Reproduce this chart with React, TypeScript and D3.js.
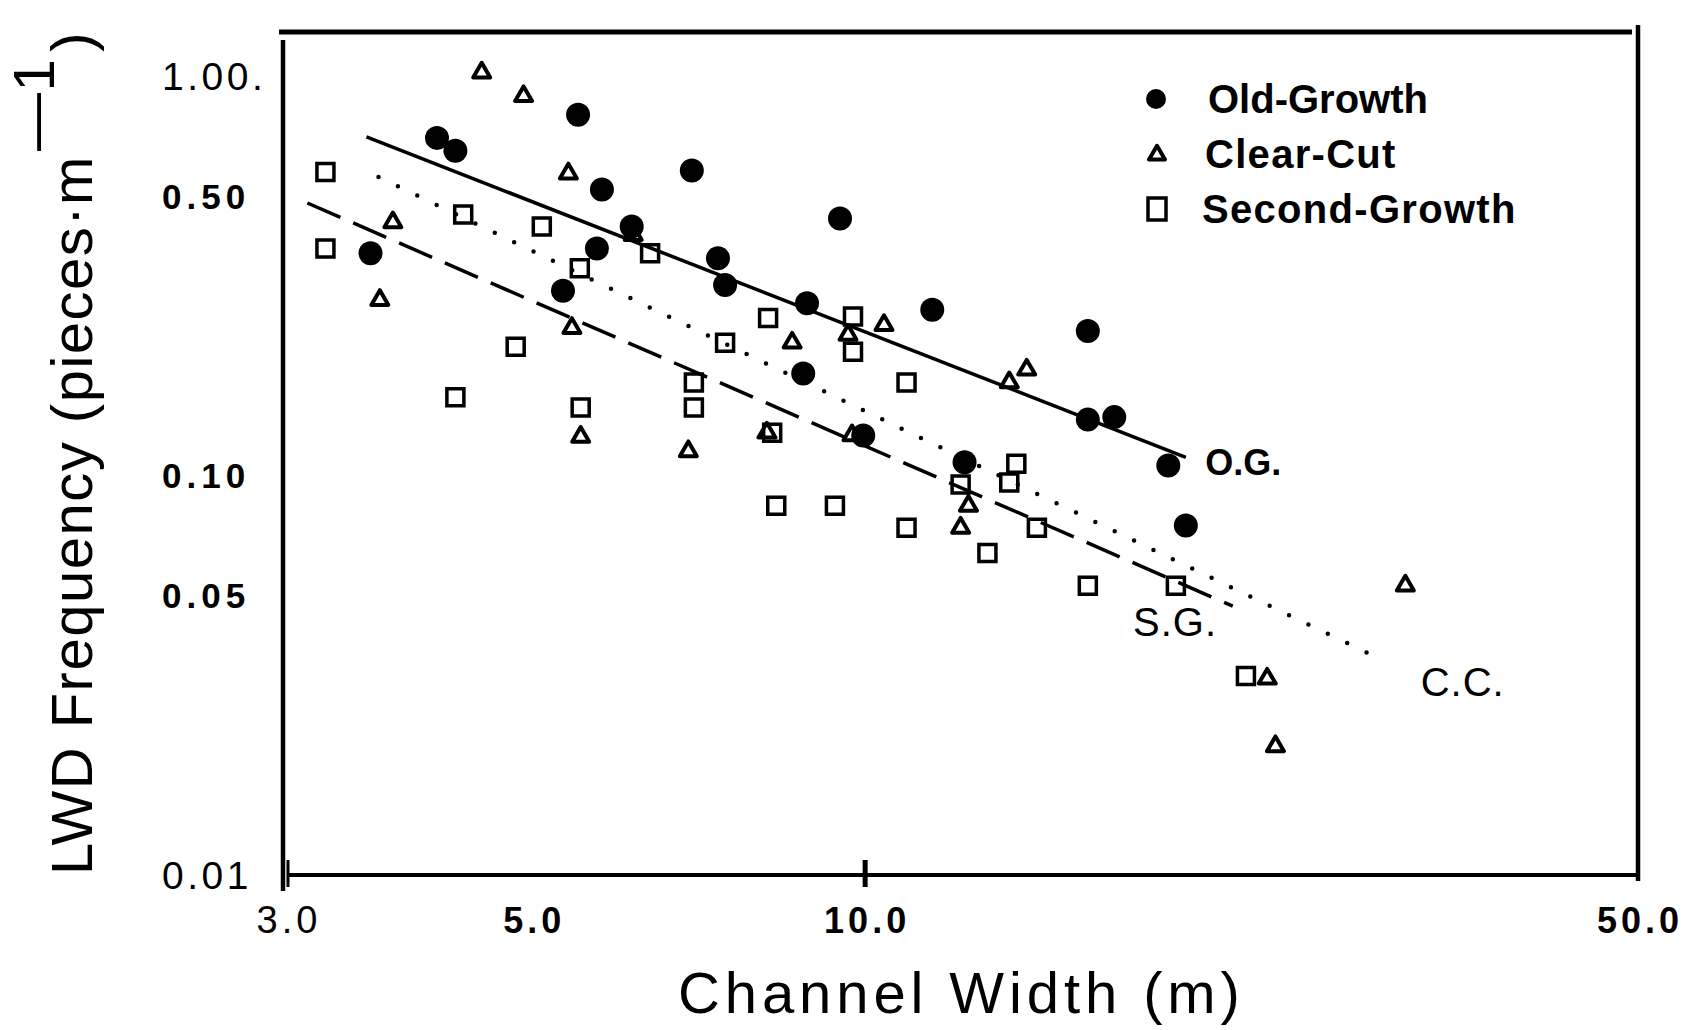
import React, { useRef, useEffect } from 'react';
import * as d3 from 'd3';

// channel width (m) / LWD frequency (pieces per m)
const oldGrowthWidth = [3.57, 4.10, 4.26, 5.50, 6.97, 5.78, 6.15, 5.72, 5.33, 7.36, 7.47, 9.49, 8.86, 11.5, 15.9, 8.79, 9.96, 12.3, 15.9, 16.8, 18.8, 19.5];
const oldGrowthFreq = [0.36, 0.70, 0.65, 0.80, 0.58, 0.52, 0.42, 0.37, 0.29, 0.35, 0.30, 0.44, 0.27, 0.26, 0.23, 0.18, 0.126, 0.108, 0.138, 0.14, 0.106, 0.075];

const clearCutWidth = [4.50, 4.91, 5.39, 3.74, 3.64, 6.17, 5.43, 5.53, 6.92, 8.59, 10.4, 9.65, 14.0, 13.5, 8.15, 12.4, 12.2, 9.73, 30.8, 23.1, 23.5];
const clearCutFreq = [1.02, 0.89, 0.57, 0.43, 0.275, 0.40, 0.234, 0.125, 0.115, 0.215, 0.238, 0.225, 0.184, 0.171, 0.128, 0.084, 0.074, 0.126, 0.053, 0.031, 0.021];

const secondGrowthWidth = [3.25, 3.25, 4.33, 5.10, 6.39, 5.52, 4.83, 4.26, 5.53, 7.00, 7.00, 8.17, 7.47, 9.75, 9.75, 10.9, 8.31, 9.39, 10.9, 12.9, 12.2, 13.7, 13.5, 14.3, 15.9, 19.1, 22.1, 8.24];
const secondGrowthFreq = [0.575, 0.37, 0.45, 0.42, 0.36, 0.33, 0.21, 0.157, 0.148, 0.171, 0.148, 0.248, 0.215, 0.25, 0.204, 0.171, 0.084, 0.084, 0.074, 0.064, 0.095, 0.107, 0.096, 0.074, 0.053, 0.053, 0.0315, 0.128];

// fitted lines (end points)
const ogLineX = [3.54, 19.5];
const ogLineY = [0.704, 0.111];
const ccLineX = [3.63, 29.5];
const ccLineY = [0.559, 0.0343];
const sgLineX = [3.13, 21.5];
const sgLineY = [0.481, 0.0471];

// axis ticks
const xTickValues = [3, 5, 10, 50];
const xTickLabels = ['3.0', '5.0', '10.0', '50.0'];
const xTickBold = [false, true, true, true];
const yTickValues = [1, 0.5, 0.1, 0.05, 0.01];
const yTickLabels = ['1.00.', '0.50', '0.10', '0.05', '0.01'];
const yTickBold = [false, true, true, true, false];

const legendNames = ['Old-Growth', 'Clear-Cut', 'Second-Growth'];

const W = 1700;
const H = 1030;
const FONT = '"Liberation Sans", Arial, Helvetica, sans-serif';

const Chart: React.FC = () => {
  const svgRef = useRef<SVGSVGElement | null>(null);

  useEffect(() => {
    const svg = d3.select(svgRef.current);
    svg.selectAll('*').remove();
    svg.attr('width', W).attr('height', H)
      .style('background', '#fff')
      .style('font-family', FONT);

    // scales
    const x = d3.scaleLog().domain([3, 50]).range([287, 1638]);
    const y = d3.scaleLog().domain([0.01, 1]).range([875, 76]);

    const x0 = x(3), x1 = x(50), yb = y(0.01);

    // frame
    const frame = svg.append('g').attr('stroke', '#000').attr('fill', 'none');
    frame.append('line').attr('x1', x0 - 8).attr('x2', x1 - 6).attr('y1', 32).attr('y2', 32).attr('stroke-width', 5);
    frame.append('line').attr('x1', x0 - 4).attr('x2', x0 - 4).attr('y1', 40).attr('y2', yb + 16).attr('stroke-width', 4.5);
    frame.append('line').attr('x1', x1).attr('x2', x1).attr('y1', 25).attr('y2', yb + 6).attr('stroke-width', 4.5);
    frame.append('line').attr('x1', x0).attr('x2', x1).attr('y1', yb).attr('y2', yb).attr('stroke-width', 4);
    // x tick marks
    frame.append('line').attr('x1', x(10)).attr('x2', x(10)).attr('y1', yb - 15).attr('y2', yb + 12).attr('stroke-width', 5);
    frame.append('line').attr('x1', x0 + 1).attr('x2', x0 + 1).attr('y1', yb - 15).attr('y2', yb + 12).attr('stroke-width', 3);

    // tick labels
    svg.append('g').selectAll('text').data(xTickValues).join('text')
      .attr('x', d => x(d) + 2)
      .attr('y', 933)
      .attr('text-anchor', 'middle')
      .attr('font-size', (_, i) => xTickBold[i] ? 36 : 38)
      .attr('font-weight', (_, i) => xTickBold[i] ? 'bold' : 'normal')
      .attr('letter-spacing', 4)
      .text((_, i) => xTickLabels[i]);

    svg.append('g').selectAll('text').data(yTickValues).join('text')
      .attr('x', 162)
      .attr('y', (d, i) => y(d) + (yTickBold[i] ? 12.5 : 14))
      .attr('font-size', (_, i) => yTickBold[i] ? 35 : 39)
      .attr('font-weight', (_, i) => yTickBold[i] ? 'bold' : 'normal')
      .attr('letter-spacing', (_, i) => yTickBold[i] ? 5 : 3.5)
      .text((_, i) => yTickLabels[i]);

    // axis titles
    svg.append('text')
      .attr('x', 678).attr('y', 1013)
      .attr('font-size', 58)
      .attr('letter-spacing', 4.9)
      .text('Channel Width (m)');

    const yTitle = svg.append('text')
      .attr('transform', `translate(92, ${yb}) rotate(-90)`)
      .attr('font-size', 58)
      .attr('letter-spacing', 1.5);
    yTitle.append('tspan').text('LWD Frequency (pieces\u00b7m');
    yTitle.append('tspan').attr('dy', -38).attr('dx', 4).text('\u20141');
    yTitle.append('tspan').attr('dy', 38).attr('dx', 6).text(')');

    // fitted lines
    const line = d3.line<number>().x(d => d[0]).y(d => d[1]);
    const fit = (xs: number[], ys: number[]) => line(xs.map((v, i) => [x(v), y(ys[i])]) as any);

    svg.append('path').attr('d', fit(ogLineX, ogLineY))
      .attr('fill', 'none').attr('stroke', '#000').attr('stroke-width', 3.5);
    svg.append('path').attr('d', fit(ccLineX, ccLineY))
      .attr('fill', 'none').attr('stroke', '#000').attr('stroke-width', 4.5)
      .attr('stroke-linecap', 'round').attr('stroke-dasharray', '0 21.5');
    svg.append('path').attr('d', fit(sgLineX, sgLineY))
      .attr('fill', 'none').attr('stroke', '#000').attr('stroke-width', 3.5)
      .attr('stroke-dasharray', '36 14');

    // points
    const tri = d3.symbol(d3.symbolTriangle, 125)();
    const sq = d3.symbol(d3.symbolSquare, 289)();

    svg.append('g').selectAll('path').data(secondGrowthWidth).join('path')
      .attr('transform', (d, i) => `translate(${x(d)},${y(secondGrowthFreq[i])})`)
      .attr('d', sq)
      .attr('fill', 'none').attr('stroke', '#000').attr('stroke-width', 3.5);

    svg.append('g').selectAll('path').data(clearCutWidth).join('path')
      .attr('transform', (d, i) => `translate(${x(d)},${y(clearCutFreq[i])})`)
      .attr('d', tri)
      .attr('fill', 'none').attr('stroke', '#000').attr('stroke-width', 4)
      .attr('stroke-linejoin', 'round');

    svg.append('g').selectAll('circle').data(oldGrowthWidth).join('circle')
      .attr('cx', d => x(d))
      .attr('cy', (_, i) => y(oldGrowthFreq[i]))
      .attr('r', 12)
      .attr('fill', '#000');

    // line labels
    svg.append('text').attr('x', x(20.3)).attr('y', y(0.108) + 13)
      .attr('font-size', 36).attr('font-weight', 'bold').text('O.G.');
    svg.append('text').attr('x', x(17.47)).attr('y', y(0.0432) + 15)
      .attr('font-size', 40).attr('letter-spacing', 1).text('S.G.');
    svg.append('text').attr('x', x(31.8)).attr('y', y(0.0306) + 15)
      .attr('font-size', 40).attr('letter-spacing', 1).text('C.C.');

    // legend
    const lg = svg.append('g');
    const rowY = [99, 154, 209];
    lg.append('circle').attr('cx', 1156).attr('cy', rowY[0]).attr('r', 10).attr('fill', '#000');
    lg.append('path').attr('transform', `translate(1157,${rowY[1] + 1})`)
      .attr('d', d3.symbol(d3.symbolTriangle, 110)())
      .attr('fill', 'none').attr('stroke', '#000').attr('stroke-width', 4).attr('stroke-linejoin', 'round');
    lg.append('rect').attr('x', 1148).attr('y', rowY[2] - 11).attr('width', 18).attr('height', 22)
      .attr('fill', 'none').attr('stroke', '#000').attr('stroke-width', 3.5);
    lg.selectAll('text').data(legendNames).join('text')
      .attr('x', (_, i) => [1208, 1205, 1202][i])
      .attr('y', (_, i) => rowY[i] + 14)
      .attr('font-size', 40)
      .attr('font-weight', 'bold')
      .attr('letter-spacing', (_, i) => i === 0 ? 0 : 1.3)
      .text(d => d);
  }, []);

  return <svg ref={svgRef}></svg>;
};

export default function App() {
  return (
    <div style={{ position: 'absolute', left: 0, top: 0 }}>
      <Chart />
    </div>
  );
}
